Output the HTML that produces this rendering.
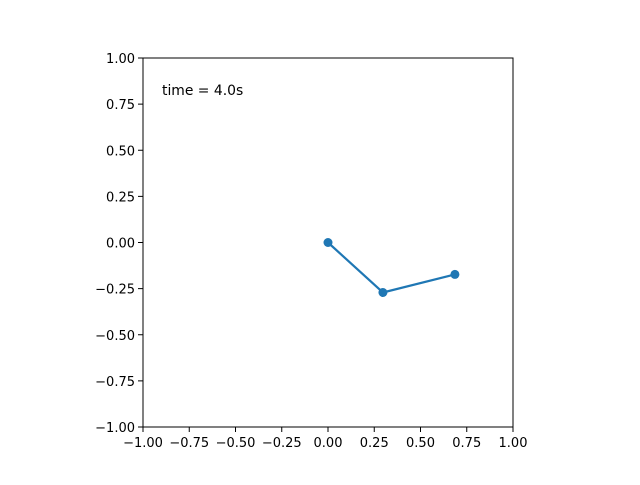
<!DOCTYPE html>
<html><head><meta charset="utf-8"><style>
body{margin:0;background:#fff;}
svg text{font-family:"DejaVu Sans","Liberation Sans",sans-serif;font-size:13px;fill:#000;}
</style></head><body>
<svg id="chart" width="640" height="480">
<rect x="143" y="58" width="370" height="369" fill="#fff" stroke="#000" stroke-width="1"/>
<g id="xticks"></g><g id="yticks"></g><g id="series"></g>
<text x="162" y="95" style="font-size:13.9px">time = 4.0s</text>
</svg>
<script>
const xs=[0,0.297,0.686];
const ys=[0,-0.271,-0.173];
const xTickVals=[-1,-0.75,-0.5,-0.25,0,0.25,0.5,0.75,1];
const xTickLabels=["−1.00","−0.75","−0.50","−0.25","0.00","0.25","0.50","0.75","1.00"];
const yTickVals=[1,0.75,0.5,0.25,0,-0.25,-0.5,-0.75,-1];
const yTickLabels=["1.00","0.75","0.50","0.25","0.00","−0.25","−0.50","−0.75","−1.00"];
const NS="http://www.w3.org/2000/svg";
function sx(v){return 143+(v+1)/2*370;}
function sy(v){return 427-(v+1)/2*369;}
function mk(t,a,p){const e=document.createElementNS(NS,t);for(const k in a)e.setAttribute(k,a[k]);p.appendChild(e);return e;}
const xg=document.getElementById('xticks'),yg=document.getElementById('yticks'),sg=document.getElementById('series');
xTickVals.forEach((v,i)=>{
 const l=mk('line',{x1:sx(v),x2:sx(v),y1:427,y2:432,stroke:'#000'},xg);
 
 
 const t=mk('text',{x:sx(v),y:447,'text-anchor':'middle'},xg);t.textContent=xTickLabels[i];
 
 
});
yTickVals.forEach((v,i)=>{
 const l=mk('line',{x1:138,x2:143,y1:sy(v),y2:sy(v),stroke:'#000'},yg);
 
 
 const t=mk('text',{x:135,y:sy(v)+5,'text-anchor':'end'},yg);t.textContent=yTickLabels[i];
 
 
});
const pl=mk('polyline',{points:xs.map((x,i)=>sx(x)+','+sy(ys[i])).join(' '),fill:'none',stroke:'#1f77b4','stroke-width':2.2},sg);


xs.forEach((x,i)=>{
 const c=mk('circle',{cx:sx(x),cy:sy(ys[i]),r:4.5,fill:'#1f77b4'},sg);
 
 
});
</script>
</body></html>
